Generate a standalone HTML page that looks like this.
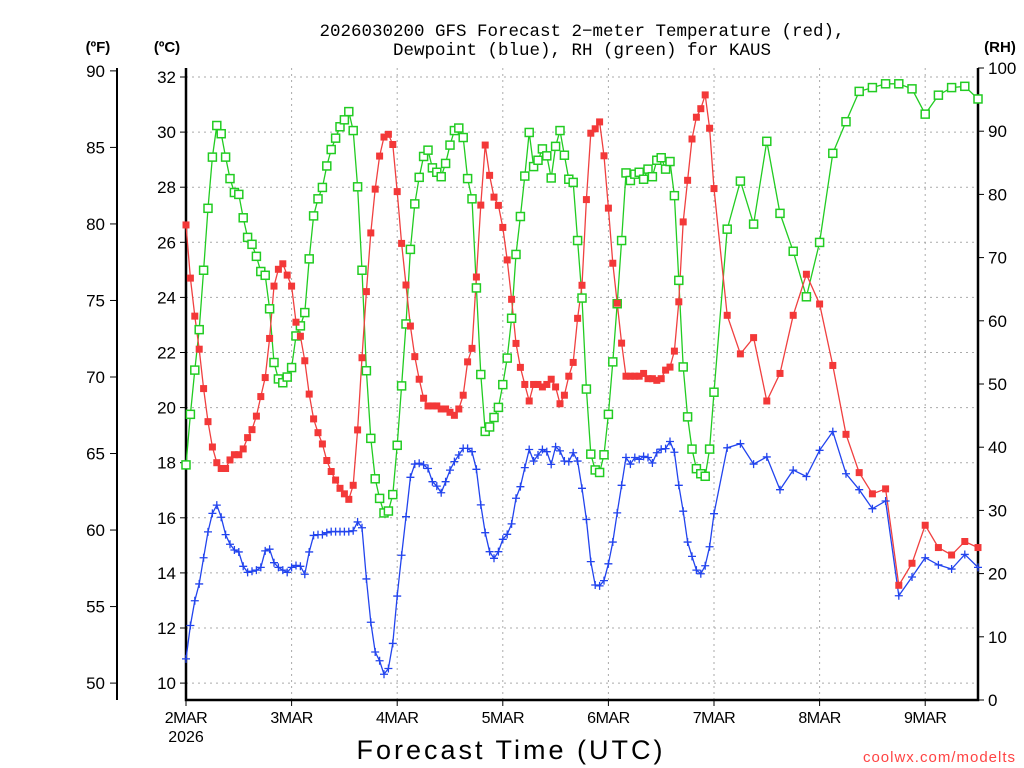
<!DOCTYPE html>
<html><head><meta charset="utf-8"><style>
html,body{margin:0;padding:0;background:#fff;width:1024px;height:768px;overflow:hidden}
svg{display:block;font-family:"Liberation Sans","DejaVu Sans",sans-serif}
</style></head><body>
<svg id="chart" width="1024" height="768" viewBox="0 0 1024 768" xmlns="http://www.w3.org/2000/svg">
<text x="582" y="36" font-size="17.5" text-anchor="middle" font-family="Liberation Mono, monospace">2026030200 GFS Forecast 2−meter Temperature (red),</text>
<text x="582" y="55" font-size="17.5" text-anchor="middle" font-family="Liberation Mono, monospace">Dewpoint (blue), RH (green) for KAUS</text>
<text x="98" y="52" font-size="15" font-weight="bold" text-anchor="middle">(ºF)</text>
<text x="167" y="52" font-size="15" font-weight="bold" text-anchor="middle">(ºC)</text>
<text x="1000" y="52" font-size="15" font-weight="bold" text-anchor="middle">(RH)</text>
<g id="grid"></g>
<g id="axes"></g>
<g id="series"></g>
<text x="511" y="759" font-size="27" text-anchor="middle" letter-spacing="3">Forecast Time (UTC)</text>
<text x="1016" y="762" font-size="15" fill="#f44" text-anchor="end" letter-spacing="1">coolwx.com/modelts</text>
</svg>
<script>
const dayLabels = ["2MAR","3MAR","4MAR","5MAR","6MAR","7MAR","8MAR","9MAR"];
const cTicks = [10,12,14,16,18,20,22,24,26,28,30,32];
const fTicks = [50,55,60,65,70,75,80,85,90];
const rhTicks = [0,10,20,30,40,50,60,70,80,90,100];
const temp = [26.63,24.70,23.32,22.12,20.69,19.49,18.57,18.00,17.79,17.79,18.10,18.29,18.29,18.50,18.91,19.20,19.69,20.40,21.09,22.51,24.41,25.02,25.22,24.81,24.41,23.10,22.59,21.70,20.49,19.59,19.09,18.68,18.08,17.68,17.37,17.07,16.87,16.67,17.18,19.19,21.81,24.21,26.34,27.93,29.13,29.82,29.92,29.55,27.84,
25.96,24.45,22.96,21.85,21.03,20.34,20.06,20.06,20.06,19.95,19.95,19.83,19.72,19.95,20.45,21.66,22.15,24.74,27.35,29.53,28.43,27.64,27.34,26.54,25.36,23.93,22.33,21.46,20.84,20.24,20.84,20.84,20.75,20.84,21.03,20.75,20.14,20.45,21.14,21.64,23.24,24.44,27.55,29.96,30.12,30.37,
29.14,27.24,25.24,23.79,22.34,21.14,21.14,21.14,21.14,21.24,21.05,21.05,20.99,21.05,21.36,21.47,22.05,23.84,26.74,28.25,29.75,30.54,30.85,31.35,30.14,27.95,
23.35,21.95,22.54,20.24,21.24,23.35,24.84,23.76,21.53,19.03,17.64,16.87,17.05,13.55,14.35,15.73,14.92,14.65,15.14,14.92];
const dewp = [10.88,12.09,12.99,13.60,14.55,15.49,16.16,16.46,16.02,15.39,15.04,14.83,14.76,14.24,14.02,14.06,14.10,14.20,14.80,14.86,14.37,14.20,14.10,14.02,14.20,14.27,14.24,13.95,14.76,15.36,15.39,15.39,15.46,15.50,15.50,15.50,15.50,15.50,15.53,15.85,15.64,13.78,12.21,11.13,10.81,10.32,10.53,11.44,13.16,
14.64,16.04,17.47,17.95,17.98,17.92,17.79,17.31,17.15,16.91,17.31,17.73,18.04,18.28,18.52,18.52,18.40,17.76,16.47,15.46,14.77,14.53,14.77,15.22,15.40,15.78,16.71,17.13,17.82,18.48,18.06,18.28,18.48,18.40,17.94,18.58,18.43,18.06,18.04,18.36,18.06,17.07,15.94,14.41,13.56,13.53,
13.72,14.33,15.12,16.18,17.18,18.19,17.95,18.19,18.12,18.23,18.19,17.99,18.36,18.49,18.51,18.77,18.38,17.18,16.24,15.12,14.60,14.10,13.97,14.26,14.95,16.15,
18.54,18.69,17.95,18.21,17.02,17.73,17.50,18.45,19.13,17.60,17.02,16.33,16.61,13.17,13.85,14.55,14.29,14.14,14.67,14.20];
const rh = [37.2,45.2,52.2,58.6,68.0,77.8,85.9,90.9,89.6,85.9,82.5,80.3,80.0,76.3,73.2,72.1,70.2,67.8,67.2,61.9,53.4,50.8,50.2,51.1,52.6,57.6,59.2,61.3,69.8,76.6,79.3,81.1,84.5,87.1,88.9,90.7,91.8,93.1,90.1,81.2,68.0,52.1,41.4,35.0,31.9,29.6,29.9,32.5,40.3,
49.7,59.5,71.3,78.5,82.7,86.0,87.0,84.2,83.5,82.8,84.9,87.8,90.1,90.5,89.0,82.5,79.3,65.2,51.5,42.5,43.2,44.7,46.3,49.9,54.1,60.4,70.5,76.5,82.9,89.8,84.4,85.4,87.2,86.1,82.6,87.6,90.1,86.2,82.4,81.9,72.7,63.6,49.2,38.9,36.4,36.0,
38.8,45.2,53.5,62.7,72.7,83.4,82.2,83.2,83.5,82.4,84.0,82.8,85.4,85.8,84.0,85.2,79.8,66.4,52.7,44.8,39.7,36.6,35.8,35.4,39.7,48.7,
74.5,82.1,75.3,88.4,77.0,71.0,63.8,72.4,86.5,91.5,96.3,96.9,97.5,97.5,96.7,92.7,95.7,96.9,97.1,95.1];
const hours = [];
for (let h = 0; h <= 120; h++) hours.push(h);
for (let h = 123; h <= 180; h += 3) hours.push(h);

const X0 = 186, X1 = 978, YT = 68, YB = 700;
const xOf = h => X0 + (h / 180) * (X1 - X0);
const yC = c => 77 + (32 - c) * 27.55;
const yF = f => yC((f - 32) * 5 / 9);
const yR = r => YB - r * (YB - YT) / 100;
const NS = "http://www.w3.org/2000/svg";
function mk(tag, parent, attrs) {
  const e = document.createElementNS(NS, tag);
  for (const k in attrs) e.setAttribute(k, attrs[k]);
  parent.appendChild(e);
  return e;
}
const grid = document.getElementById('grid');
const axes = document.getElementById('axes');
const series = document.getElementById('series');

cTicks.forEach(c => {
  const l = mk('line', grid, {x1: X0, x2: X1, y1: yC(c), y2: yC(c), stroke: '#aaa', 'stroke-width': 1, 'stroke-dasharray': '2,4'});
  
  
  const t = mk('line', axes, {x1: X0 - 6, x2: X0, y1: yC(c), y2: yC(c), stroke: '#000', 'stroke-width': 1});
  
  
  const tx = mk('text', axes, {x: X0 - 10, y: yC(c) + 6, 'font-size': 17, 'text-anchor': 'end'});
  tx.textContent = c;
  
  
});
dayLabels.forEach((d, i) => {
  const x = xOf(i * 24);
  if (i > 0) {
    const l = mk('line', grid, {x1: x, x2: x, y1: YT, y2: YB, stroke: '#aaa', 'stroke-width': 1, 'stroke-dasharray': '2,4'});
    
    
  }
  const t = mk('line', axes, {x1: x, x2: x, y1: YB, y2: YB + 6, stroke: '#000', 'stroke-width': 1});
  
  
  const tx = mk('text', axes, {x: x, y: 723, 'font-size': 16, 'text-anchor': 'middle', 'letter-spacing': '-0.5'});
  tx.textContent = d;
  
  
});
const yr = mk('text', axes, {x: X0, y: 742, 'font-size': 16, 'text-anchor': 'middle'});
yr.textContent = '2026';



const fAxis = mk('line', axes, {x1: 117, x2: 117, y1: YT, y2: YB, stroke: '#000', 'stroke-width': 2});


fTicks.forEach(f => {
  const t = mk('line', axes, {x1: 110, x2: 117, y1: yF(f), y2: yF(f), stroke: '#000', 'stroke-width': 1});
  
  
  const tx = mk('text', axes, {x: 105, y: yF(f) + 6, 'font-size': 17, 'text-anchor': 'end'});
  tx.textContent = f;
  
  
});
rhTicks.forEach(r => {
  const t = mk('line', axes, {x1: X1, x2: X1 + 6, y1: yR(r), y2: yR(r), stroke: '#000', 'stroke-width': 1});
  
  
  const tx = mk('text', axes, {x: X1 + 10, y: yR(r) + 6, 'font-size': 17, 'text-anchor': 'start'});
  tx.textContent = r;
  
  
});
const frame = mk('path', axes, {d: `M${X0},${YT} V${YB} H${X1} V${YT}`, fill: 'none', stroke: '#000', 'stroke-width': 2.5});



function drawLine(vals, yFn, color, name) {
  const pts = vals.map((v, i) => xOf(hours[i]).toFixed(1) + ',' + yFn(v).toFixed(1)).join(' ');
  const pl = mk('polyline', series, {points: pts, fill: 'none', stroke: color, 'stroke-width': 1.3});
  
  
}
drawLine(rh, yR, '#22cc22', 'rh-line');
drawLine(temp, yC, '#f04040', 'temperature-line');
drawLine(dewp, yC, '#2244ee', 'dewpoint-line');

rh.forEach((v, i) => {
  const x = xOf(hours[i]), y = yR(v);
  const m = mk('rect', series, {x: x - 4, y: y - 4, width: 8, height: 8, fill: '#fff', stroke: '#22cc22', 'stroke-width': 1.5});
  
  
});
temp.forEach((v, i) => {
  const x = xOf(hours[i]), y = yC(v);
  const m = mk('rect', series, {x: x - 3.5, y: y - 3.5, width: 7, height: 7, fill: '#f33838'});
  
  
});
dewp.forEach((v, i) => {
  const x = xOf(hours[i]), y = yC(v);
  const m = mk('path', series, {d: `M${x - 4},${y} H${x + 4} M${x},${y - 4} V${y + 4}`, stroke: '#2244ee', 'stroke-width': 1.3, fill: 'none'});
  
  
});
</script>
</body></html>
